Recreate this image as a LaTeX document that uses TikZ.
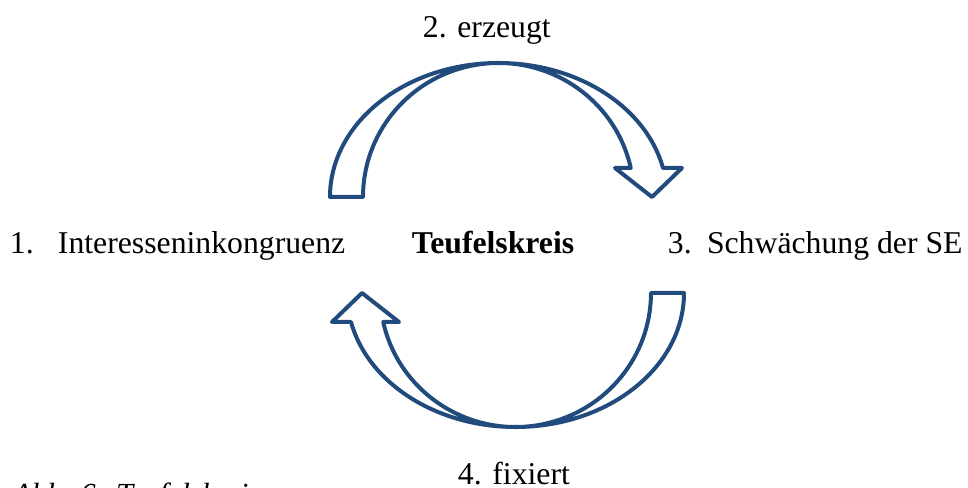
\documentclass[tikz,border=0pt]{standalone}
\usepackage{fontspec}
\setmainfont{Liberation Serif}
\definecolor{arrowblue}{RGB}{33,74,125}
\begin{document}
\begin{tikzpicture}[x=0.75pt,y=0.75pt,
  blockarrow/.style={draw=arrowblue,fill=white,line width=3pt,line join=round},
  lbl/.style={inner sep=0pt,outer sep=0pt,font=\fontsize{23.8}{28}\selectfont}]
\useasboundingbox (-507,-243) rectangle (461,245);
% top arrow
\draw[blockarrow] (-177,48) arc[start angle=180,end angle=12.5,x radius=168.5,y radius=134]
  -- (175,77) -- (145,48) -- (108,77) -- (123.79,77)
  arc[start angle=12.5,end angle=180,x radius=135.5,y radius=134] -- cycle;
% bottom arrow
\begin{scope}[rotate=180]
\draw[blockarrow] (-177,48) arc[start angle=180,end angle=12.5,x radius=168.5,y radius=134]
  -- (175,77) -- (145,48) -- (108,77) -- (123.79,77)
  arc[start angle=12.5,end angle=180,x radius=135.5,y radius=134] -- cycle;
\end{scope}
\node[lbl,anchor=base west] (n2) at (-84,207) {2. erzeugt};
\node[lbl,anchor=base west] (n4) at (-49,-240) {4. fixiert};
\node[lbl,anchor=base west] (n1a) at (-497,-9) {1.};
\node[lbl,anchor=base west] (n1) at (-449,-9) {Interesseninkongruenz};
\node[lbl,anchor=base west,font=\fontsize{23.8}{28}\selectfont\bfseries] (c) at (-95,-9) {Teufelskreis};
\node[lbl,anchor=base west] (n3a) at (161,-9) {3.};
\node[lbl,anchor=base west] (n3) at (200,-9) {Schwächung der SE};
\node[lbl,anchor=base west,font=\fontsize{23}{28}\selectfont\itshape] (cap) at (-494,-260) {Abb. 6: Teufelskreis};
\end{tikzpicture}
\end{document}
